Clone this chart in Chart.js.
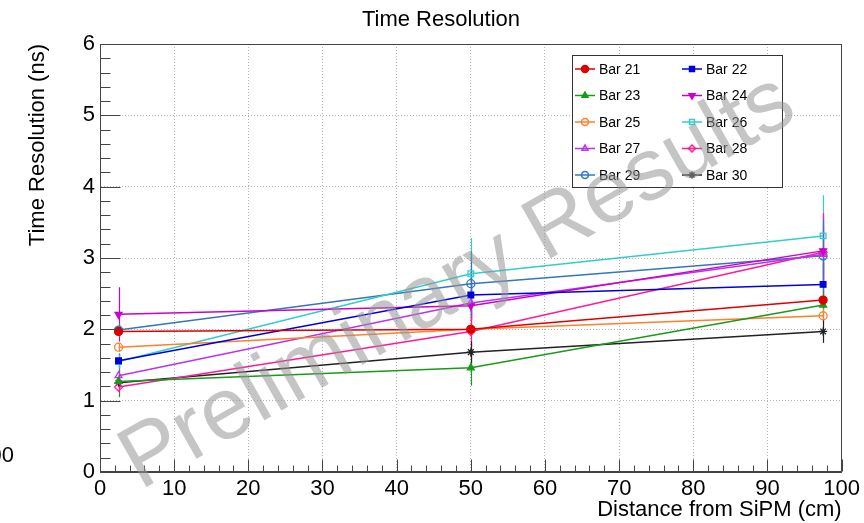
<!DOCTYPE html>
<html>
<head>
<meta charset="utf-8">
<title>Time Resolution</title>
<script src="https://cdn.jsdelivr.net/npm/chart.js@4.4.1/dist/chart.umd.min.js"></script>
<style>
  html, body { margin: 0; padding: 0; background: #fff; }
  #wrap { width: 864px; height: 523px; }
</style>
</head>
<body>
<div id="wrap"><canvas id="timeResChart" width="864" height="523"></canvas></div>
<script>
// distance from SiPM (cm) for each measurement
const distances = [2.5, 50, 97.5];

// time resolution (ns) per bar, one value per distance
const bar21 = [1.97, 2.00, 2.41];
const bar22 = [1.56, 2.48, 2.63];
const bar23 = [1.27, 1.46, 2.34];
const bar24 = [2.21, 2.33, 3.10];
const bar25 = [1.75, 2.00, 2.19];
const bar26 = [1.55, 2.78, 3.31];
const bar27 = [1.35, 2.37, 3.05];
const bar28 = [1.19, 1.97, 3.08];
const bar29 = [1.99, 2.64, 3.03];
const bar30 = [1.25, 1.68, 1.97];

// errors (ns)
const bar21Err = [0.05, 0.08, 0.12];
const bar22Err = [0.10, 0.35, 0.30];
const bar23Err = [0.22, 0.25, 0.20];
const bar24Err = [0.38, 0.30, 0.50];
const bar25Err = [0.06, 0.08, 0.10];
const bar26Err = [0.10, 0.50, 0.57];
const bar27Err = [0.08, 0.25, 0.40];
const bar28Err = [0.08, 0.30, 0.55];
const bar29Err = [0.10, 0.45, 0.50];
const bar30Err = [0.06, 0.15, 0.16];

const xTicks = [0, 10, 20, 30, 40, 50, 60, 70, 80, 90, 100];
const yTicks = [0, 1, 2, 3, 4, 5, 6];

const FONT = "'Liberation Sans', Arial, Helvetica, sans-serif";

const series = [
  { label: 'Bar 21', values: bar21, errors: bar21Err, color: '#dd0000', marker: 'circle', filled: true },
  { label: 'Bar 22', values: bar22, errors: bar22Err, color: '#0000dd', marker: 'rect', filled: true },
  { label: 'Bar 23', values: bar23, errors: bar23Err, color: '#1a9a1a', marker: 'triangle', filled: true },
  { label: 'Bar 24', values: bar24, errors: bar24Err, color: '#cc00cc', marker: 'triangle', filled: true, rot: 180 },
  { label: 'Bar 25', values: bar25, errors: bar25Err, color: '#ff7f2a', marker: 'circle', filled: false },
  { label: 'Bar 26', values: bar26, errors: bar26Err, color: '#33cccc', marker: 'rect', filled: false },
  { label: 'Bar 27', values: bar27, errors: bar27Err, color: '#bb33ee', marker: 'triangle', filled: false },
  { label: 'Bar 28', values: bar28, errors: bar28Err, color: '#ff1a99', marker: 'rectRot', filled: false },
  { label: 'Bar 29', values: bar29, errors: bar29Err, color: '#3377bb', marker: 'circle', filled: false },
  { label: 'Bar 30', values: bar30, errors: bar30Err, color: '#222222', marker: 'star', filled: false }
];

// vertical error bars, drawn under the markers
const errorBars = {
  id: 'errorBars',
  beforeDatasetsDraw(chart) {
    const { ctx, scales: { x, y } } = chart;
    chart.data.datasets.forEach((ds, i) => {
      if (!chart.isDatasetVisible(i)) return;
      ctx.save();
      ctx.strokeStyle = ds.borderColor;
      ctx.lineWidth = 1.2;
      ds.data.forEach((p, j) => {
        const e = ds.errors[j];
        const px = Math.round(x.getPixelForValue(p.x)) + 0.5;
        ctx.beginPath();
        ctx.moveTo(px, y.getPixelForValue(p.y - e));
        ctx.lineTo(px, y.getPixelForValue(p.y + e));
        ctx.stroke();
      });
      ctx.restore();
    });
  }
};

// ROOT-like frame, inward ticks, title, legend and watermark
const rootDecor = {
  id: 'rootDecor',
  afterDraw(chart) {
    const { ctx, chartArea: a, scales: { x, y } } = chart;
    ctx.save();

    // frame
    ctx.strokeStyle = '#444';
    ctx.lineWidth = 1;
    const l = Math.round(a.left) + 0.5, t = Math.round(a.top) + 0.5;
    const r = Math.round(a.right) - 0.5, b = Math.round(a.bottom) - 0.5;
    ctx.strokeRect(l, t, r - l, b - t);

    // x ticks: major every 10, minor every 2
    ctx.beginPath();
    for (let v = x.min; v <= x.max + 1e-6; v += 2) {
      const px = Math.round(x.getPixelForValue(v)) + 0.5;
      const len = Math.abs(v % 10) < 1e-6 ? 12 : 6;
      ctx.moveTo(px, b);
      ctx.lineTo(px, b - len);
    }
    // y ticks: major every 1, minor every 0.2
    for (let k = 0; k <= 30; k++) {
      const v = y.min + k * 0.2;
      const py = Math.round(y.getPixelForValue(v)) + 0.5;
      const len = k % 5 === 0 ? 20 : 10;
      ctx.moveTo(l, py);
      ctx.lineTo(l + len, py);
    }
    ctx.stroke();

    // title
    ctx.fillStyle = '#000';
    ctx.font = '22px ' + FONT;
    ctx.textAlign = 'center';
    ctx.textBaseline = 'middle';
    ctx.fillText('Time Resolution', 441, 20);

    // cut-off label from neighbouring pad
    ctx.textAlign = 'right';
    ctx.fillText('00', 14, 456);

    // legend
    const box = { left: 572, top: 55, right: 782, bottom: 187 };
    ctx.fillStyle = '#fff';
    ctx.fillRect(box.left, box.top, box.right - box.left, box.bottom - box.top);
    ctx.strokeStyle = '#333';
    ctx.strokeRect(box.left + 0.5, box.top + 0.5, box.right - box.left, box.bottom - box.top);
    chart.data.datasets.forEach((ds, i) => {
      const col = i % 2, row = Math.floor(i / 2);
      const x0 = col === 0 ? 575 : 682;
      const yc = 69 + row * 26.5;
      ctx.strokeStyle = ds.borderColor;
      ctx.lineWidth = 1.5;
      ctx.beginPath();
      ctx.moveTo(x0, yc);
      ctx.lineTo(x0 + 20, yc);
      ctx.stroke();
      ctx.fillStyle = ds.pointBackgroundColor;
      Chart.helpers.drawPoint(ctx, {
        pointStyle: ds.pointStyle,
        radius: 3.5,
        borderWidth: 1.2,
        rotation: ds.pointRotation || 0
      }, x0 + 10, yc);
      ctx.fillStyle = '#000';
      ctx.font = '14px ' + FONT;
      ctx.textAlign = 'left';
      ctx.textBaseline = 'middle';
      ctx.fillText(ds.label, x0 + 24, yc + 1);
    });

    // watermark
    ctx.translate(470, 304);
    ctx.rotate(-29.5 * Math.PI / 180);
    ctx.fillStyle = 'rgba(150, 150, 150, 0.55)';
    ctx.font = '88px ' + FONT;
    ctx.textAlign = 'center';
    ctx.textBaseline = 'alphabetic';
    ctx.fillText('Preliminary Results', 0, 0);

    ctx.restore();
  }
};

new Chart(document.getElementById('timeResChart'), {
  type: 'scatter',
  data: {
    datasets: series.map(s => ({
      label: s.label,
      data: distances.map((d, i) => ({ x: d, y: s.values[i] })),
      errors: s.errors,
      borderColor: s.color,
      backgroundColor: s.color,
      pointBackgroundColor: s.filled ? s.color : 'rgba(0,0,0,0)',
      pointBorderColor: s.color,
      pointStyle: s.marker,
      pointRotation: s.rot || 0,
      pointRadius: 4,
      pointBorderWidth: 1.3,
      borderWidth: 1.5,
      showLine: true,
      tension: 0
    }))
  },
  options: {
    responsive: false,
    animation: false,
    layout: { padding: { top: 44, right: 19, left: 0, bottom: 0 } },
    plugins: {
      legend: { display: false },
      title: { display: false },
      tooltip: { enabled: false }
    },
    scales: {
      x: {
        type: 'linear',
        min: xTicks[0],
        max: xTicks[xTicks.length - 1],
        afterBuildTicks: scale => { scale.ticks = xTicks.map(v => ({ value: v })); },
        afterFit: scale => { scale.height = 51; },
        ticks: { color: '#000', font: { family: FONT, size: 22 }, padding: 4, maxRotation: 0, autoSkip: false },
        grid: { color: '#b4b4b4', lineWidth: 1, drawTicks: false },
        border: { display: true, color: '#444', dash: [1, 2] },
        title: {
          display: true,
          text: 'Distance from SiPM (cm)',
          align: 'end',
          color: '#000',
          font: { family: FONT, size: 22 },
          padding: { top: 0, bottom: 0 }
        }
      },
      y: {
        type: 'linear',
        min: yTicks[0],
        max: yTicks[yTicks.length - 1],
        afterBuildTicks: scale => { scale.ticks = yTicks.map(v => ({ value: v })); },
        afterFit: scale => { scale.width = 100; },
        ticks: { color: '#000', font: { family: FONT, size: 22 }, padding: 5 },
        grid: { color: '#b4b4b4', lineWidth: 1, drawTicks: false },
        border: { display: true, color: '#444', dash: [1, 2] },
        title: {
          display: true,
          text: 'Time Resolution (ns)',
          align: 'end',
          color: '#000',
          font: { family: FONT, size: 22 },
          padding: { top: 25, bottom: 0 }
        }
      }
    }
  },
  plugins: [errorBars, rootDecor]
});
</script>
</body>
</html>
